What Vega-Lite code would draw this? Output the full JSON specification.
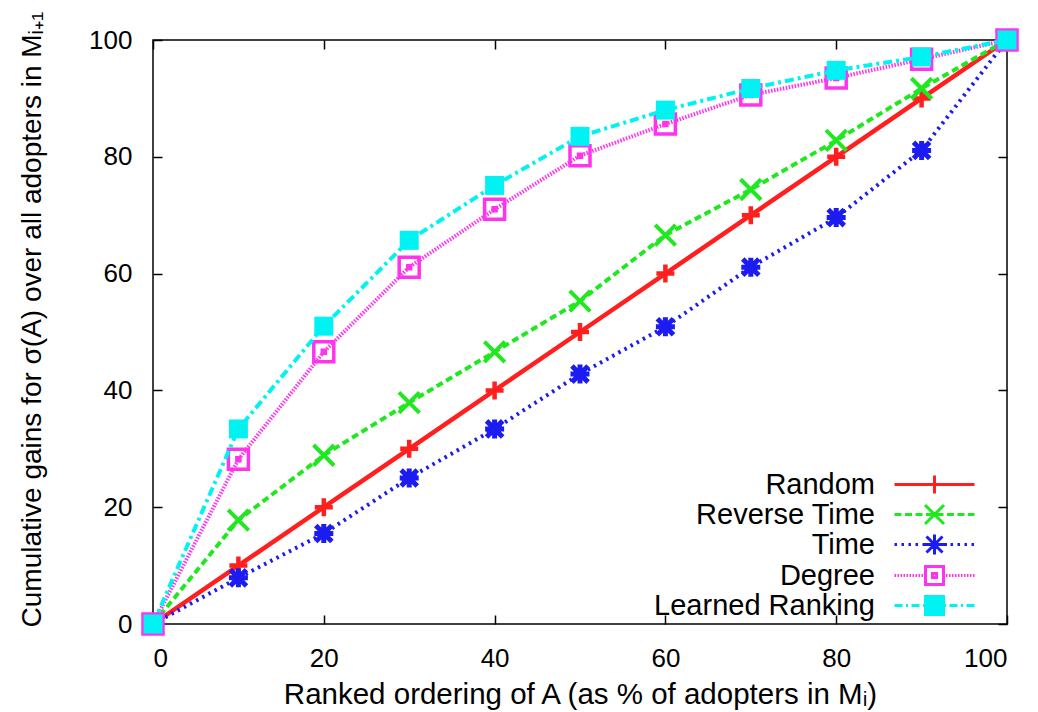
{
  "$schema": "https://vega.github.io/schema/vega-lite/v6.json",
  "width": 854,
  "height": 584,
  "autosize": "none",
  "padding": {"left": 153, "top": 40, "right": 31, "bottom": 88},
  "background": "white",
  "config": {
    "font": "Liberation Sans",
    "view": {"stroke": "#000000", "strokeWidth": 1.5},
    "axis": {"grid": false, "domain": false, "tickColor": "#000", "tickWidth": 1.5, "labelColor": "#000", "titleColor": "#000", "titleFontWeight": "normal"}
  },
  "data": {
    "values": [
      {"series": "Random", "x": 0, "y": 0}, {"series": "Random", "x": 10, "y": 10}, {"series": "Random", "x": 20, "y": 20}, {"series": "Random", "x": 30, "y": 30}, {"series": "Random", "x": 40, "y": 40}, {"series": "Random", "x": 50, "y": 50}, {"series": "Random", "x": 60, "y": 60}, {"series": "Random", "x": 70, "y": 70}, {"series": "Random", "x": 80, "y": 80}, {"series": "Random", "x": 90, "y": 90}, {"series": "Random", "x": 100, "y": 100},
      {"series": "Reverse Time", "x": 0, "y": 0}, {"series": "Reverse Time", "x": 10, "y": 17.8}, {"series": "Reverse Time", "x": 20, "y": 28.9}, {"series": "Reverse Time", "x": 30, "y": 37.9}, {"series": "Reverse Time", "x": 40, "y": 46.6}, {"series": "Reverse Time", "x": 50, "y": 55.3}, {"series": "Reverse Time", "x": 60, "y": 66.6}, {"series": "Reverse Time", "x": 70, "y": 74.4}, {"series": "Reverse Time", "x": 80, "y": 82.8}, {"series": "Reverse Time", "x": 90, "y": 91.7}, {"series": "Reverse Time", "x": 100, "y": 100},
      {"series": "Time", "x": 0, "y": 0}, {"series": "Time", "x": 10, "y": 7.9}, {"series": "Time", "x": 20, "y": 15.5}, {"series": "Time", "x": 30, "y": 25}, {"series": "Time", "x": 40, "y": 33.4}, {"series": "Time", "x": 50, "y": 42.8}, {"series": "Time", "x": 60, "y": 50.9}, {"series": "Time", "x": 70, "y": 61.1}, {"series": "Time", "x": 80, "y": 69.6}, {"series": "Time", "x": 90, "y": 81.1}, {"series": "Time", "x": 100, "y": 100},
      {"series": "Degree", "x": 0, "y": 0}, {"series": "Degree", "x": 10, "y": 28.2}, {"series": "Degree", "x": 20, "y": 46.6}, {"series": "Degree", "x": 30, "y": 61.1}, {"series": "Degree", "x": 40, "y": 71}, {"series": "Degree", "x": 50, "y": 80.2}, {"series": "Degree", "x": 60, "y": 85.6}, {"series": "Degree", "x": 70, "y": 90.6}, {"series": "Degree", "x": 80, "y": 93.5}, {"series": "Degree", "x": 90, "y": 96.7}, {"series": "Degree", "x": 100, "y": 100},
      {"series": "Learned Ranking", "x": 0, "y": 0}, {"series": "Learned Ranking", "x": 10, "y": 33.4}, {"series": "Learned Ranking", "x": 20, "y": 51}, {"series": "Learned Ranking", "x": 30, "y": 65.7}, {"series": "Learned Ranking", "x": 40, "y": 75.1}, {"series": "Learned Ranking", "x": 50, "y": 83.5}, {"series": "Learned Ranking", "x": 60, "y": 88}, {"series": "Learned Ranking", "x": 70, "y": 91.7}, {"series": "Learned Ranking", "x": 80, "y": 94.8}, {"series": "Learned Ranking", "x": 90, "y": 97.1}, {"series": "Learned Ranking", "x": 100, "y": 100}
    ]
  },
  "resolve": {"axis": {"x": "independent", "y": "independent"}},
  "layer": [
    {
      "transform": [{"filter": {"field": "x", "gt": 1000}}],
      "mark": {"type": "point", "strokeWidth": 3, "opacity": 1},
      "encoding": {
        "x": {"field": "x", "type": "quantitative", "scale": {"domain": [0, 100], "nice": false},
          "axis": {"orient": "bottom", "values": [0, 20, 40, 60, 80, 100], "tickSize": -9, "labelPadding": 30, "labelFontSize": 26, "title": "Ranked ordering of A (as % of adopters in Mᵢ)", "titleFontSize": 29.5, "titlePadding": 9}},
        "y": {"field": "y", "type": "quantitative", "scale": {"domain": [0, 100], "nice": false},
          "axis": {"orient": "left", "values": [0, 20, 40, 60, 80, 100], "tickSize": -9, "labelPadding": 30, "labelFontSize": 26, "title": "Cumulative gains for σ(A) over all adopters in Mᵢ₊₁", "titleFontSize": 28, "titlePadding": 42, "titleY": 279}},
        "color": {"field": "series", "type": "nominal",
          "scale": {"domain": ["Random", "Reverse Time", "Time", "Degree", "Learned Ranking"], "range": ["#ff1f1f", "#20e820", "#1c1cf0", "#ff33ee", "#00f2f2"]},
          "legend": {"orient": "none", "legendX": 767, "legendY": 430, "title": null, "labelFontSize": 29, "labelFont": "Liberation Sans", "labelColor": "#000", "labelAlign": "right", "labelOffset": -74, "labelLimit": 0, "symbolSize": 400, "symbolStrokeWidth": 3, "symbolOpacity": 1, "rowPadding": -3}},
        "shape": {"field": "series", "type": "nominal",
          "scale": {"domain": ["Random", "Reverse Time", "Time", "Degree", "Learned Ranking"],
            "range": [
              "M-4,0H4M0,-0.9V0.9",
              "M-4,0H-3.3M-2.95,0H-2.25M-1.9,0H-1.2M-0.85,0H-0.15M0.2,0H0.9M1.25,0H1.95M2.3,0H3M3.35,0H4M-0.95,-0.95L0.95,0.95M-0.95,0.95L0.95,-0.95",
              "M-4,0H-3.75M-3.3,0H-3.05M-2.6,0H-2.35M-1.9,0H-1.65M-1.2,0H-0.95M1,0H1.25M1.6,0H1.85M2.3,0H2.55M3,0H3.25M3.7,0H3.95M-1,0H1M0,-1V1M-0.8,-0.8L0.8,0.8M-0.8,0.8L0.8,-0.8",
              "M-4,0H-3.85M-3.7,0H-3.55M-3.4,0H-3.25M-3.1,0H-2.95M-2.8,0H-2.65M-2.5,0H-2.35M-2.2,0H-2.05M-1.9,0H-1.75M-1.6,0H-1.45M-1.3,0H-1.15M1.15,0H1.3M1.45,0H1.6M1.75,0H1.9M2.05,0H2.2M2.35,0H2.5M2.65,0H2.8M2.95,0H3.1M3.25,0H3.4M3.55,0H3.7M3.85,0H4M-0.9,-0.9H0.9V0.9H-0.9ZM-0.2,-0.2H0.2V0.2H-0.2Z",
              "M-4,0H-3.2M-2.85,0H-2.65M-2.3,0H-1.5M-1.15,0H-0.95M0.95,0H1.15M1.5,0H2.3M2.65,0H2.85M3.2,0H4M-0.9,-0.9H0.9V0.9H-0.9Z"
            ]}},
        "fill": {"field": "series", "type": "nominal",
          "scale": {"domain": ["Random", "Reverse Time", "Time", "Degree", "Learned Ranking"], "range": ["transparent", "transparent", "transparent", "transparent", "#00f2f2"]}}
      }
    },
    {
      "transform": [{"filter": {"field": "x", "gt": 1000}}],
      "mark": {"type": "point", "opacity": 0},
      "encoding": {
        "x": {"field": "x", "type": "quantitative", "scale": {"domain": [0, 100], "nice": false}, "axis": {"orient": "top", "values": [0, 20, 40, 60, 80, 100], "tickSize": -9, "labels": false, "title": null}},
        "y": {"field": "y", "type": "quantitative", "scale": {"domain": [0, 100], "nice": false}, "axis": {"orient": "right", "values": [0, 20, 40, 60, 80, 100], "tickSize": -9, "labels": false, "title": null}}
      }
    },
    {
      "transform": [{"filter": {"field": "series", "equal": "Random"}}],
      "encoding": {"x": {"field": "x", "type": "quantitative", "scale": {"domain": [0, 100], "nice": false}, "axis": null}, "y": {"field": "y", "type": "quantitative", "scale": {"domain": [0, 100], "nice": false}, "axis": null}},
      "layer": [
        {"mark": {"type": "line", "strokeWidth": 4.5, "color": "#ff1f1f"}},
        {"mark": {"type": "point", "shape": "M-1,0H1M0,-1V1", "size": 324, "strokeWidth": 4.5, "color": "#ff1f1f", "opacity": 1}}
      ]
    },
    {
      "transform": [{"filter": {"field": "series", "equal": "Reverse Time"}}],
      "encoding": {"x": {"field": "x", "type": "quantitative", "scale": {"domain": [0, 100], "nice": false}, "axis": null}, "y": {"field": "y", "type": "quantitative", "scale": {"domain": [0, 100], "nice": false}, "axis": null}},
      "layer": [
        {"mark": {"type": "line", "strokeWidth": 4, "color": "#20e820", "strokeDash": [7, 4]}},
        {"mark": {"type": "point", "shape": "M-1,-1L1,1M-1,1L1,-1", "size": 420, "strokeWidth": 4, "color": "#20e820", "opacity": 1}}
      ]
    },
    {
      "transform": [{"filter": {"field": "series", "equal": "Time"}}],
      "encoding": {"x": {"field": "x", "type": "quantitative", "scale": {"domain": [0, 100], "nice": false}, "axis": null}, "y": {"field": "y", "type": "quantitative", "scale": {"domain": [0, 100], "nice": false}, "axis": null}},
      "layer": [
        {"mark": {"type": "line", "strokeWidth": 4, "color": "#1c1cf0", "strokeDash": [2.5, 4.5]}},
        {"mark": {"type": "point", "shape": "M-1,0H1M0,-1V1M-0.85,-0.85L0.85,0.85M-0.85,0.85L0.85,-0.85", "size": 361, "strokeWidth": 5, "color": "#1c1cf0", "opacity": 1}}
      ]
    },
    {
      "transform": [{"filter": {"field": "series", "equal": "Degree"}}],
      "encoding": {"x": {"field": "x", "type": "quantitative", "scale": {"domain": [0, 100], "nice": false}, "axis": null}, "y": {"field": "y", "type": "quantitative", "scale": {"domain": [0, 100], "nice": false}, "axis": null}},
      "layer": [
        {"mark": {"type": "line", "strokeWidth": 4, "color": "#ff33ee", "strokeDash": [1.5, 1.5]}},
        {"mark": {"type": "point", "shape": "M-1,-1H1V1H-1ZM-0.15,-0.15H0.15V0.15H-0.15Z", "size": 400, "strokeWidth": 3.5, "color": "#ff33ee", "opacity": 1}}
      ]
    },
    {
      "transform": [{"filter": {"field": "series", "equal": "Learned Ranking"}}],
      "encoding": {"x": {"field": "x", "type": "quantitative", "scale": {"domain": [0, 100], "nice": false}, "axis": null}, "y": {"field": "y", "type": "quantitative", "scale": {"domain": [0, 100], "nice": false}, "axis": null}},
      "layer": [
        {"mark": {"type": "line", "strokeWidth": 4, "color": "#00f2f2", "strokeDash": [9, 4, 3, 4]}},
        {"mark": {"type": "point", "shape": "M-1,-1H1V1H-1Z", "size": 361, "filled": true, "color": "#00f2f2", "opacity": 1}}
      ]
    }
  ]
}
